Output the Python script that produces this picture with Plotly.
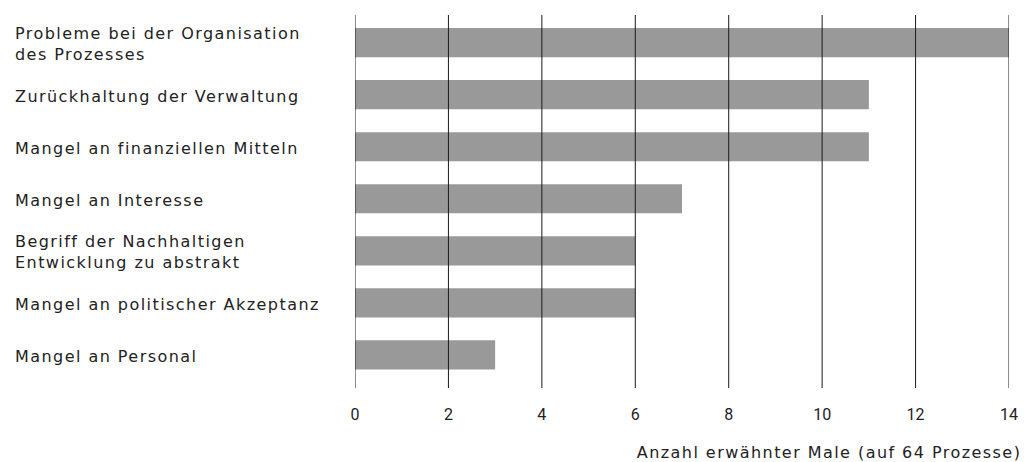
import plotly.graph_objects as go

categories = [
    "Probleme bei der Organisation<br>des Prozesses",
    "Zurückhaltung der Verwaltung",
    "Mangel an finanziellen Mitteln",
    "Mangel an Interesse",
    "Begriff der Nachhaltigen<br>Entwicklung zu abstrakt",
    "Mangel an politischer Akzeptanz",
    "Mangel an Personal",
]
values = [14, 11, 11, 7, 6, 6, 3]
tick_values = [0, 2, 4, 6, 8, 10, 12, 14]
axis_title = "Anzahl erwähnter Male (auf 64 Prozesse)"

FONT = "DejaVu Sans"
TEXT = "#222222"
W, H = 1030, 462
ML, MR, MT, MB = 355, 18, 15, 74
PW = W - ML - MR
PH = H - MT - MB

order = categories[::-1]
vals = values[::-1]

fig = go.Figure(go.Bar(
    x=vals, y=order, orientation="h",
    marker=dict(color="#999999", line=dict(width=0)),
    width=0.56,
))

shapes = [
    dict(type="line", xref="x", yref="paper", x0=t, x1=t, y0=0, y1=1,
         line=dict(color="#1a1a1a", width=1), layer="above")
    for t in tick_values
]

annotations = [
    dict(text=c, xref="paper", yref="y", x=-(ML - 11) / PW, y=c,
         yshift=-1.5,
         xanchor="left", yanchor="middle", align="left", showarrow=False,
         font=dict(family=FONT, size=16, color=TEXT))
    for c in categories
]
annotations.append(dict(
    text=axis_title, xref="paper", yref="paper", x=1 - 14 / PW,
    y=-(453 - (H - MB)) / PH, xanchor="right", yanchor="middle",
    showarrow=False, font=dict(family=FONT, size=16, color=TEXT)))

fig.update_layout(
    width=W, height=H,
    margin=dict(l=ML, r=MR, t=MT, b=MB),
    plot_bgcolor="white", paper_bgcolor="white",
    showlegend=False,
    shapes=shapes,
    annotations=annotations,
    xaxis=dict(range=[0, 14], tickvals=tick_values, showgrid=False,
               zeroline=False, showline=False, ticks="",
               ticklabelstandoff=15,
               tickfont=dict(family="Roboto", size=16, color=TEXT)),
    yaxis=dict(categoryorder="array", categoryarray=order,
               range=[-0.635, 6.53], showticklabels=False, showgrid=False,
               zeroline=False, ticks=""),
)

post = """
document.body.style.margin='0';
document.body.style.overflow='hidden';
var st=document.createElement('style');
st.textContent='.annotation-text{letter-spacing:1.45px !important;}';
document.head.appendChild(st);
"""

fig.write_html("out.html", post_script=post,
               config={"displayModeBar": False, "staticPlot": True})
